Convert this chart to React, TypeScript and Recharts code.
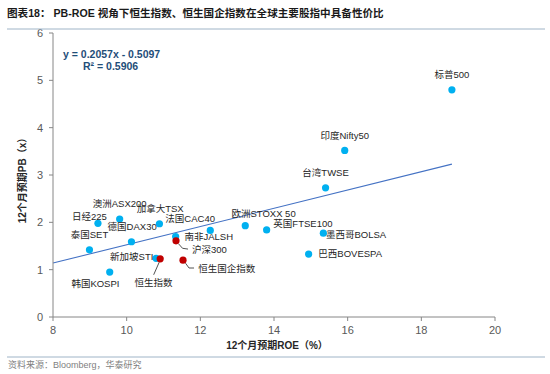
import React from 'react';
import { ScatterChart, Scatter, XAxis, YAxis, ReferenceLine } from 'recharts';

const FONT = "'Liberation Sans', Arial, 'Noto Sans CJK SC', sans-serif";

// Blue series: global indices
const blueNames = ['标普500', '印度Nifty50', '台湾TWSE', '墨西哥BOLSA', '巴西BOVESPA', '欧洲STOXX 50', '英国FTSE100', '南非JALSH', '法国CAC40', '加拿大TSX', '德国DAX30', '日经225', '澳洲ASX200', '泰国SET', '韩国KOSPI', '新加坡STI'];
const blueROE = [18.83, 15.92, 15.4, 15.34, 14.94, 13.22, 13.8, 12.27, 11.33, 10.89, 10.13, 9.22, 9.81, 8.99, 9.54, 10.8];
const bluePB = [4.8, 3.52, 2.73, 1.77, 1.33, 1.93, 1.84, 1.83, 1.7, 1.97, 1.59, 1.98, 2.07, 1.42, 0.95, 1.24];

// Red series: China / HK indices
const redNames = ['沪深300', '恒生国企指数', '恒生指数'];
const redROE = [11.34, 11.53, 10.91];
const redPB = [1.61, 1.2, 1.23];

// Trendline endpoints
const trendROE = [8, 18.83];
const trendPB = [1.14, 3.23];

const xTicks = [8, 10, 12, 14, 16, 18, 20];
const yTicks = [0, 1, 2, 3, 4, 5, 6];

const blueData = blueNames.map((name, i) => ({ name, x: blueROE[i], y: bluePB[i] }));
const redData = redNames.map((name, i) => ({ name, x: redROE[i], y: redPB[i] }));
const trendSegment = trendROE.map((x, i) => ({ x, y: trendPB[i] }));

// Label layout (offsets from dot centre, px)
const labelLayout: Record<string, { dx: number; dy: number; anchor?: string; leader?: number[][] }> = {
  '标普500': { dx: 0, dy: -15 },
  '印度Nifty50': { dx: 0, dy: -15 },
  '台湾TWSE': { dx: 0, dy: -15 },
  '墨西哥BOLSA': { dx: 32.7, dy: 1 },
  '巴西BOVESPA': { dx: 41.6, dy: -0.7 },
  '欧洲STOXX 50': { dx: 18.3, dy: -11.7 },
  '英国FTSE100': { dx: 36.3, dy: -6.7 },
  '南非JALSH': { dx: -1.5, dy: 6.3 },
  '法国CAC40': { dx: 14.5, dy: -18 },
  '加拿大TSX': { dx: 0.7, dy: -15.5 },
  '德国DAX30': { dx: 0.7, dy: -15.5 },
  '日经225': { dx: -8.5, dy: -7 },
  '澳洲ASX200': { dx: 0, dy: -16 },
  '泰国SET': { dx: 0, dy: -15.5 },
  '韩国KOSPI': { dx: -14.3, dy: 11.4 },
  '新加坡STI': { dx: -24.4, dy: -1.7 },
  '沪深300': { dx: 16, dy: 8.7, anchor: 'start', leader: [[2.5, 3], [6.5, 7.5], [12, 8.3]] },
  '恒生国企指数': { dx: 15.3, dy: 8.7, anchor: 'start', leader: [[2.5, 3], [6, 7.8], [11, 7.8]] },
  '恒生指数': { dx: -6.7, dy: 23.7, leader: [[-1, 3.5], [-6.5, 16]] },
};

const BlueDot = (p: any) => <circle cx={p.cx} cy={p.cy} r={3.6} fill="#00B0F0" />;
const RedDot = (p: any) => <circle cx={p.cx} cy={p.cy} r={3.6} fill="#C00000" />;

const LabelShape = (p: any) => {
  const { cx, cy, payload } = p;
  const lo = labelLayout[payload.name];
  if (!lo) return <g />;
  return (
    <g>
      {lo.leader && (
        <polyline
          points={lo.leader.map(([a, b]) => `${cx + a},${cy + b}`).join(' ')}
          fill="none"
          stroke="#262626"
          strokeWidth={0.8}
        />
      )}
      <text
        x={cx + lo.dx}
        y={cy + lo.dy}
        textAnchor={lo.anchor || 'middle'}
        dominantBaseline="central"
        fontSize={9.5}
        fontFamily={FONT}
        fill="#262626"
      >
        {payload.name}
      </text>
    </g>
  );
};

export default function App() {
  return (
    <div style={{ position: 'absolute', left: 0, top: 0, width: 550, height: 374, background: '#fff', fontFamily: FONT }}>
      <div style={{ position: 'absolute', left: 0, top: 0 }}>
        <ScatterChart width={550} height={374} margin={{ top: 33, right: 55, bottom: 27, left: 0 }}>
          <XAxis
            type="number"
            dataKey="x"
            domain={[8, 20]}
            ticks={xTicks}
            height={30}
            tickSize={4}
            tickMargin={5}
            axisLine={{ stroke: '#868686' }}
            tickLine={{ stroke: '#868686' }}
            tick={{ fill: '#595959', fontSize: 11, fontFamily: FONT }}
            allowDataOverflow
          />
          <YAxis
            type="number"
            dataKey="y"
            domain={[0, 6]}
            ticks={yTicks}
            width={53}
            tickSize={4}
            tickMargin={6}
            axisLine={{ stroke: '#868686' }}
            tickLine={{ stroke: '#868686' }}
            tick={{ fill: '#595959', fontSize: 11, fontFamily: FONT }}
            allowDataOverflow
          />
          <ReferenceLine
            segment={trendSegment}
            stroke="#4472C4"
            strokeWidth={1.1}
            ifOverflow="visible"
          />
          <Scatter data={blueData} shape={BlueDot} isAnimationActive={false} />
          <Scatter data={redData} shape={RedDot} isAnimationActive={false} />
          <Scatter data={blueData} shape={LabelShape} isAnimationActive={false} />
          <Scatter data={redData} shape={LabelShape} isAnimationActive={false} />
        </ScatterChart>
      </div>
      <svg width={550} height={374} style={{ position: 'absolute', left: 0, top: 0, pointerEvents: 'none' }}>
        <text x={7} y={12.5} dominantBaseline="central" fontSize={10.6} fontWeight="bold" fontFamily={FONT} fill="#1a1a1a">
          图表18：  PB-ROE 视角下恒生指数、恒生国企指数在全球主要股指中具备性价比
        </text>
        <line x1={7} x2={545} y1={29} y2={29} stroke="#9FB4C7" strokeWidth={1} />
        <text x={63} y={54.3} dominantBaseline="central" fontSize={10.5} fontWeight="bold" fontFamily={FONT} fill="#1F4E79">
          y = 0.2057x - 0.5097
        </text>
        <text x={83} y={65.5} dominantBaseline="central" fontSize={10.5} fontWeight="bold" fontFamily={FONT} fill="#1F4E79">
          R² = 0.5906
        </text>
        <text
          x={22.7}
          y={178}
          transform="rotate(-90 22.7 178)"
          textAnchor="middle"
          dominantBaseline="central"
          fontSize={10}
          fontWeight="bold"
          fontFamily={FONT}
          fill="#262626"
        >
          12个月预期PB（x）
        </text>
        <text x={277} y={345} textAnchor="middle" dominantBaseline="central" fontSize={10} fontWeight="bold" fontFamily={FONT} fill="#262626">
          12个月预期ROE（%）
        </text>
        <line x1={7} x2={545} y1={357} y2={357} stroke="#9FB4C7" strokeWidth={1} />
        <text x={8} y={364.5} dominantBaseline="central" fontSize={9} fontFamily={FONT} fill="#7F7F7F">
          资料来源：Bloomberg，华泰研究
        </text>
      </svg>
    </div>
  );
}
